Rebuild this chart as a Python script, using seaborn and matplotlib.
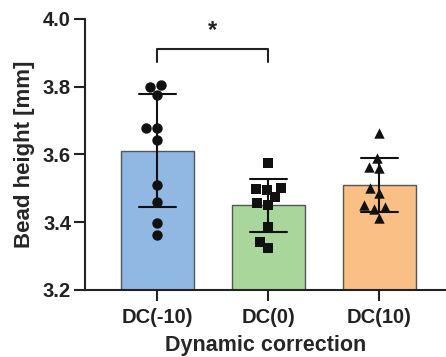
import matplotlib
matplotlib.use("Agg")
import matplotlib.pyplot as plt
import seaborn as sns
import pandas as pd
import numpy as np

categories = ["DC(-10)", "DC(0)", "DC(10)"]
dc_m10 = [3.800, 3.805, 3.776, 3.677, 3.677, 3.643, 3.510, 3.461, 3.397, 3.362]
dc_0 = [3.574, 3.501, 3.475, 3.497, 3.495, 3.451, 3.456, 3.385, 3.343, 3.323]
dc_10 = [3.663, 3.589, 3.559, 3.564, 3.500, 3.485, 3.451, 3.444, 3.439, 3.412]
colors = ["#90b8e3", "#a8d69b", "#f9bf84"]
markers = ["o", "s", "^"]
yticks = [3.2, 3.4, 3.6, 3.8, 4.0]
sig_level = 3.911
sig_drop = 3.874

sns.set_theme(style="ticks")
plt.rcParams["font.family"] = ["Liberation Sans", "DejaVu Sans"]
plt.rcParams["font.weight"] = "bold"

values = [dc_m10, dc_0, dc_10]
df = pd.DataFrame({
    "group": [c for c, v in zip(categories, values) for _ in v],
    "height": [x for v in values for x in v],
})

fig = plt.figure(figsize=(4.46, 3.57), dpi=100)
ax = fig.add_axes([0.1906, 0.1877, 0.8094, 0.7591])

sns.barplot(data=df, x="group", y="height", hue="group", order=categories,
            palette=colors, saturation=1, errorbar="sd", capsize=0.33, width=0.66,
            err_kws={"color": "#111111", "linewidth": 1.5},
            edgecolor="#555555", linewidth=1.0, legend=False, ax=ax)

for c, v, m in zip(categories, values, markers):
    sub = pd.DataFrame({"group": [c] * len(v), "height": v})
    sns.swarmplot(data=sub, x="group", y="height", order=categories,
                  color="#111111", marker=m, size=7.5, ax=ax)

ax.set_ylim(3.2, 4.0)
ax.set_xlim(-0.65, 2.6)
ax.set_yticks(yticks)
ax.set_yticklabels([f"{t:.1f}" for t in yticks], fontsize=14.5, fontweight="bold")
ax.set_xticks(range(len(categories)))
ax.set_xticklabels(categories, fontsize=14.5, fontweight="bold")
ax.set_xlabel("Dynamic correction", fontsize=15.5, fontweight="bold", labelpad=6)
ax.set_ylabel("Bead height [mm]", fontsize=16, fontweight="bold", labelpad=6)
for s in ["top", "right"]:
    ax.spines[s].set_visible(False)
for s in ["left", "bottom"]:
    ax.spines[s].set_linewidth(1.5)
    ax.spines[s].set_color("#222222")
ax.tick_params(width=1.5, length=8, color="#222222", labelcolor="#222222", pad=2)
ax.tick_params(axis="x", pad=5)

ax.plot([0, 0, 1, 1], [sig_drop, sig_level, sig_level, sig_drop],
        color="#222222", linewidth=1.5, clip_on=False)
ax.text(0.5, sig_level + 0.02, "*", ha="center", va="bottom",
        fontsize=17, fontweight="bold", color="#222222")

fig.savefig("out.png", dpi=100)
